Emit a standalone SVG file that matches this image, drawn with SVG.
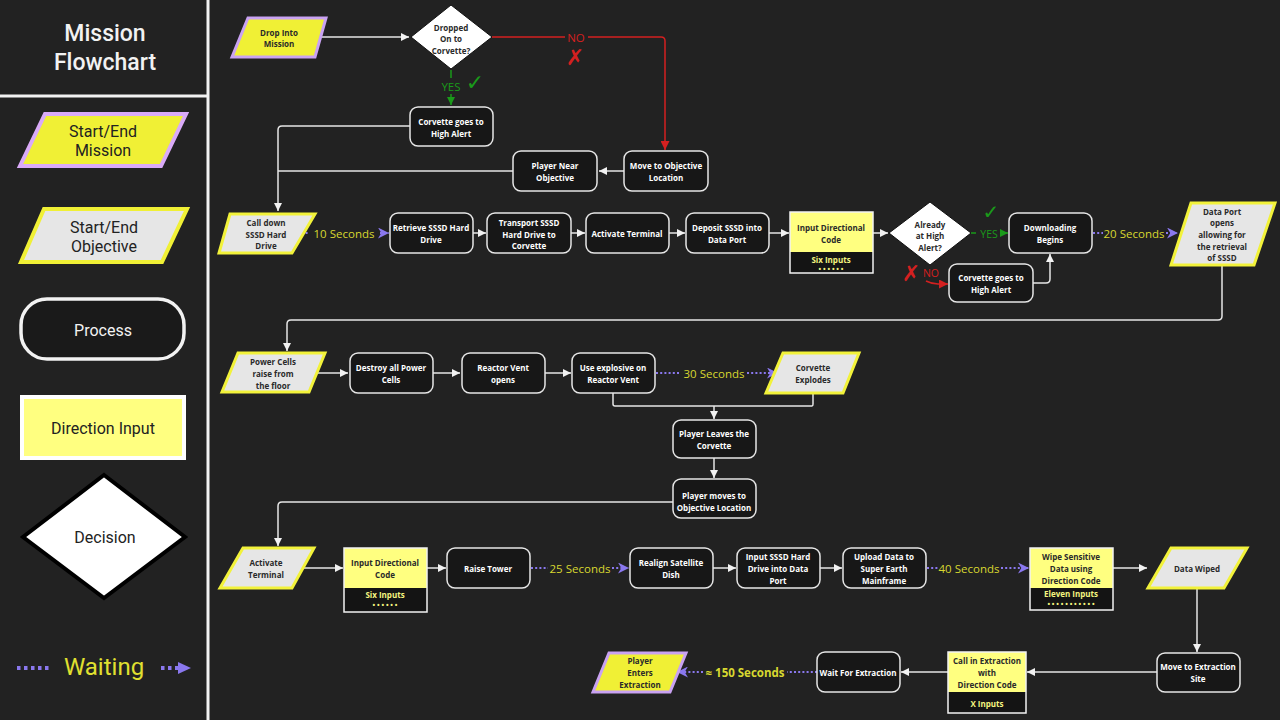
<svg xmlns="http://www.w3.org/2000/svg" width="1280" height="720" viewBox="0 0 1280 720">
<style>
.bg{fill:#222222}
.proc{fill:#171717;stroke:#e6e6e6;stroke-width:1.5}
.yin{fill:#ffff80}
.ybox{fill:none;stroke:#f2f2f2;stroke-width:1.5}
.ybot{fill:#141414}
.pm{fill:#f0f035;stroke:#c9a2f2;stroke-width:3}
.po{fill:#e6e6e6;stroke:#f2f23a;stroke-width:3}
.dec{fill:#ffffff;stroke:#111;stroke-width:1}
.t{font-family:"Open Sans","Noto Sans",sans-serif;font-weight:700;font-size:8px;fill:#ffffff;text-anchor:middle;dominant-baseline:central}
.td{fill:#2a2a2a}
.ty{fill:#f5f580}
.w{fill:none;stroke:#e6e6e6;stroke-width:1.5}
.r{fill:none;stroke:#d42020;stroke-width:1.5}
.g{fill:none;stroke:#1a9a1a;stroke-width:1.5}
.p{fill:none;stroke:#8a78ee;stroke-width:2;stroke-dasharray:2 2.2}
.wl{font-family:"Open Sans","Noto Sans",sans-serif;font-size:11.5px;fill:#d8d830;text-anchor:middle;dominant-baseline:central}
.sym{font-family:"DejaVu Sans",sans-serif;text-anchor:middle;dominant-baseline:central}
.lg{font-family:"Roboto","DejaVu Sans",sans-serif;font-size:16px;text-anchor:middle;dominant-baseline:central}
</style>
<defs>
<marker id="aw" viewBox="0 0 10 10" refX="10" refY="5" markerWidth="8" markerHeight="8" markerUnits="userSpaceOnUse" orient="auto"><path d="M0 0L10 5L0 10z" fill="#f2f2f2"/></marker>
<marker id="ar" viewBox="0 0 10 10" refX="10" refY="5" markerWidth="9" markerHeight="9" markerUnits="userSpaceOnUse" orient="auto"><path d="M0 0L10 5L0 10z" fill="#d42020"/></marker>
<marker id="ag" viewBox="0 0 10 10" refX="10" refY="5" markerWidth="8" markerHeight="8" markerUnits="userSpaceOnUse" orient="auto"><path d="M0 0L10 5L0 10z" fill="#1a9a1a"/></marker>
<marker id="ap" viewBox="0 0 10 10" refX="10" refY="5" markerWidth="11" markerHeight="11" markerUnits="userSpaceOnUse" orient="auto"><path d="M0 0L10 5L0 10L3 5z" fill="#8a78ee"/></marker>
</defs>
<rect class="bg" x="0" y="0" width="1280" height="720"/>

<g id="legend">
<line x1="208" y1="0" x2="208" y2="720" stroke="#f2f2f2" stroke-width="3"/>
<line x1="0" y1="96" x2="207" y2="96" stroke="#f2f2f2" stroke-width="3"/>
<text x="105" y="33" class="lg" style="font-size:23px;fill:#f2f2f2;font-weight:500">Mission</text>
<text x="105" y="62" class="lg" style="font-size:23px;fill:#f2f2f2;font-weight:500">Flowchart</text>
<polygon points="45,114 186,114 161,166 20,166" fill="#f0f035" stroke="#d9aaf8" stroke-width="4"/>
<text x="103" y="131" class="lg" fill="#222">Start/End</text>
<text x="103" y="150" class="lg" fill="#222">Mission</text>
<polygon points="44,209 187,209 162,262 21,262" fill="#e6e6e6" stroke="#f0f035" stroke-width="4"/>
<text x="104" y="227" class="lg" fill="#222">Start/End</text>
<text x="104" y="246" class="lg" fill="#222">Objective</text>
<rect x="21" y="299" width="163" height="60" rx="26" fill="#1a1a1a" stroke="#f2f2f2" stroke-width="3.5"/>
<text x="103" y="330" class="lg" fill="#f2f2f2">Process</text>
<rect x="22" y="397" width="162" height="61" fill="#ffff80" stroke="#ffffff" stroke-width="4"/>
<text x="103" y="428" class="lg" fill="#222">Direction Input</text>
<polygon points="104,475 185,537 104,598 23,537" fill="#ffffff" stroke="#000" stroke-width="4"/>
<text x="105" y="537" class="lg" fill="#222">Decision</text>
<line x1="17" y1="668" x2="52" y2="668" stroke="#8a78ee" stroke-width="4" stroke-dasharray="3.5 3.5"/>
<text x="104" y="667" class="lg" style="font-size:24px;fill:#e0e030">Waiting</text>
<line x1="161" y1="668" x2="180" y2="668" stroke="#8a78ee" stroke-width="4" stroke-dasharray="3.5 3.5"/>
<polygon points="178,662 191,668 178,674" fill="#8a78ee"/>
</g>

<g id="connectors">
<path class="w" d="M316 37H409" marker-end="url(#aw)"/>
<path class="r" d="M492 37H565M588 37H661Q665 37 665 41V150" marker-end="url(#ar)"/>
<text x="576" y="37" class="wl" style="fill:#d42020">NO</text>
<text x="575" y="57" class="sym" style="font-size:22px;fill:#d42020">✗</text>
<path class="g" d="M451 70V78"/>
<text x="451" y="86" class="wl" style="fill:#1a9a1a">YES</text>
<text x="475" y="82" class="sym" style="font-size:22px;fill:#1a9a1a">✓</text>
<path class="g" d="M451 94V105" marker-end="url(#ag)"/>
<path class="w" d="M410 126H282Q278 126 278 130V211" marker-end="url(#aw)"/>
<path class="w" d="M513 171H278"/>
<path class="w" d="M624 171H599" marker-end="url(#aw)"/>

<path class="p" d="M293 233H309"/>
<text x="344" y="233" class="wl">10 Seconds</text>
<path class="p" d="M380 233H389" marker-end="url(#ap)"/>
<path class="w" d="M473 233H486" marker-end="url(#aw)"/>
<path class="w" d="M571 233H585" marker-end="url(#aw)"/>
<path class="w" d="M669 233H685" marker-end="url(#aw)"/>
<path class="w" d="M769 233H789" marker-end="url(#aw)"/>
<path class="w" d="M873 233H888" marker-end="url(#aw)"/>
<path class="g" d="M971 233H976"/>
<text x="989" y="234" class="wl" style="fill:#1a9a1a;font-size:10.5px">YES</text>
<text x="991" y="212" class="sym" style="font-size:20px;fill:#1a9a1a">✓</text>
<path class="g" d="M1000 233H1008" marker-end="url(#ag)"/>
<text x="911" y="273" class="sym" style="font-size:22px;fill:#d42020">✗</text>
<text x="931" y="273" class="wl" style="fill:#d42020;font-size:10.5px">NO</text>
<path class="r" d="M926 281Q932 284 938 284H948" marker-end="url(#ar)"/>
<path class="w" d="M1033 283H1046Q1050 283 1050 279V254" marker-end="url(#aw)"/>
<path class="p" d="M1093 233H1103"/>
<text x="1134" y="233" class="wl">20 Seconds</text>
<path class="p" d="M1166 233H1178" marker-end="url(#ap)"/>
<path class="w" d="M1222 265V316Q1222 320 1218 320H291Q287 320 287 324V351" marker-end="url(#aw)"/>

<path class="w" d="M310 373H348" marker-end="url(#aw)"/>
<path class="w" d="M433 373H460" marker-end="url(#aw)"/>
<path class="w" d="M545 373H571" marker-end="url(#aw)"/>
<path class="p" d="M656 373H681"/>
<text x="714" y="373" class="wl">30 Seconds</text>
<path class="p" d="M747 373H778" marker-end="url(#ap)"/>
<path class="w" d="M613 393V404Q613 406 615 406H812Q813 406 813 404V393"/>
<path class="w" d="M714 406V419" marker-end="url(#aw)"/>
<path class="w" d="M714 458V478" marker-end="url(#aw)"/>
<path class="w" d="M673 502H282Q278 502 278 506V546" marker-end="url(#aw)"/>

<path class="w" d="M303 568H343" marker-end="url(#aw)"/>
<path class="w" d="M427 568H446" marker-end="url(#aw)"/>
<path class="p" d="M531 568H548"/>
<text x="580" y="568" class="wl">25 Seconds</text>
<path class="p" d="M612 568H629" marker-end="url(#ap)"/>
<path class="w" d="M713 568H736" marker-end="url(#aw)"/>
<path class="w" d="M820 568H842" marker-end="url(#aw)"/>
<path class="p" d="M927 568H938"/>
<text x="969" y="568" class="wl">40 Seconds</text>
<path class="p" d="M1001 568H1029" marker-end="url(#ap)"/>
<path class="w" d="M1113 568H1147" marker-end="url(#aw)"/>
<path class="w" d="M1197 588V652" marker-end="url(#aw)"/>

<path class="w" d="M1157 672H1027" marker-end="url(#aw)"/>
<path class="w" d="M948 672H901" marker-end="url(#aw)"/>
<path class="p" d="M817 672H787"/>
<text x="745" y="672" class="wl" style="font-weight:700">≈ 150 Seconds</text>
<path class="p" d="M703 672H677" marker-end="url(#ap)"/>
</g>

<g id="drop-into-mission"><polygon class="pm" points="248,18 326,18 315,57 232,57"/><text class="t td" x="279" y="32">Drop Into</text><text class="t td" x="279" y="43">Mission</text></g>
<g id="dropped-decision"><polygon class="dec" points="451,5 492,37 451,69 411,37"/><text class="t td" x="451" y="27">Dropped</text><text class="t td" x="451" y="38">On to</text><text class="t td" x="451" y="50">Corvette?</text></g>
<g id="corvette-high-alert-1"><rect class="proc" x="410" y="107" width="83" height="39" rx="8"/><text class="t" x="451" y="121">Corvette goes to</text><text class="t" x="451" y="133">High Alert</text></g>
<g id="move-to-objective"><rect class="proc" x="624" y="151" width="84" height="40" rx="8"/><text class="t" x="666" y="165">Move to Objective</text><text class="t" x="666" y="177">Location</text></g>
<g id="player-near-objective"><rect class="proc" x="513" y="151" width="84" height="40" rx="8"/><text class="t" x="555" y="165">Player Near</text><text class="t" x="555" y="177">Objective</text></g>

<g id="call-down-sssd"><polygon class="po" points="230,214 315,214 292,253 219,253"/><text class="t td" x="266" y="222">Call down</text><text class="t td" x="266" y="234">SSSD Hard</text><text class="t td" x="266" y="245">Drive</text></g>
<g id="retrieve-sssd"><rect class="proc" x="390" y="213" width="83" height="40" rx="8"/><text class="t" x="431" y="227">Retrieve SSSD Hard</text><text class="t" x="431" y="239">Drive</text></g>
<g id="transport-sssd"><rect class="proc" x="487" y="213" width="84" height="40" rx="8"/><text class="t" x="529" y="222">Transport SSSD</text><text class="t" x="529" y="234">Hard Drive to</text><text class="t" x="529" y="245">Corvette</text></g>
<g id="activate-terminal-1"><rect class="proc" x="586" y="213" width="83" height="40" rx="8"/><text class="t" x="627" y="233">Activate Terminal</text></g>
<g id="deposit-sssd"><rect class="proc" x="686" y="213" width="83" height="40" rx="8"/><text class="t" x="727" y="227">Deposit SSSD into</text><text class="t" x="727" y="239">Data Port</text></g>
<g id="input-code-1"><rect class="yin" x="790" y="212" width="83" height="40"/><rect class="ybot" x="790" y="252" width="83" height="21"/><rect class="ybox" x="790" y="212" width="83" height="61"/><text class="t td" x="831" y="227">Input Directional</text><text class="t td" x="831" y="239">Code</text><text class="t ty" x="831" y="259">Six Inputs</text><text class="t ty" x="831" y="269" style="font-size:7px">• • • • • •</text></g>
<g id="already-high-alert"><polygon class="dec" points="930,202 971,233 930,265 889,233"/><text class="t td" x="930" y="224">Already</text><text class="t td" x="930" y="235">at High</text><text class="t td" x="930" y="247">Alert?</text></g>
<g id="downloading-begins"><rect class="proc" x="1009" y="213" width="83" height="40" rx="8"/><text class="t" x="1050" y="227">Downloading</text><text class="t" x="1050" y="239">Begins</text></g>
<g id="corvette-high-alert-2"><rect class="proc" x="949" y="264" width="84" height="38" rx="8"/><text class="t" x="991" y="277">Corvette goes to</text><text class="t" x="991" y="289">High Alert</text></g>
<g id="data-port-opens"><polygon class="po" points="1191,203 1275,203 1254,265 1171,265"/><text class="t td" x="1222" y="211">Data Port</text><text class="t td" x="1222" y="222">opens</text><text class="t td" x="1222" y="234">allowing for</text><text class="t td" x="1222" y="246">the retrieval</text><text class="t td" x="1222" y="257">of SSSD</text></g>

<g id="power-cells"><polygon class="po" points="238,353 325,353 309,392 222,392"/><text class="t td" x="273" y="361">Power Cells</text><text class="t td" x="273" y="373">raise from</text><text class="t td" x="273" y="385">the floor</text></g>
<g id="destroy-power-cells"><rect class="proc" x="350" y="353" width="83" height="40" rx="8"/><text class="t" x="391" y="367">Destroy all Power</text><text class="t" x="391" y="379">Cells</text></g>
<g id="reactor-vent-opens"><rect class="proc" x="462" y="353" width="83" height="40" rx="8"/><text class="t" x="503" y="367">Reactor Vent</text><text class="t" x="503" y="379">opens</text></g>
<g id="use-explosive"><rect class="proc" x="572" y="353" width="83" height="40" rx="8"/><text class="t" x="613" y="367">Use explosive on</text><text class="t" x="613" y="379">Reactor Vent</text></g>
<g id="corvette-explodes"><polygon class="po" points="783,353 859,353 843,393 766,393"/><text class="t td" x="813" y="367">Corvette</text><text class="t td" x="813" y="379">Explodes</text></g>
<g id="player-leaves"><rect class="proc" x="673" y="420" width="83" height="38" rx="8"/><text class="t" x="714" y="433">Player Leaves the</text><text class="t" x="714" y="445">Corvette</text></g>
<g id="player-moves"><rect class="proc" x="673" y="479" width="83" height="39" rx="8"/><text class="t" x="714" y="495">Player moves to</text><text class="t" x="714" y="507">Objective Location</text></g>

<g id="activate-terminal-2"><polygon class="po" points="243,548 314,548 292,588 220,588"/><text class="t td" x="266" y="562">Activate</text><text class="t td" x="266" y="574">Terminal</text></g>
<g id="input-code-2"><rect class="yin" x="344" y="548" width="83" height="40"/><rect class="ybot" x="344" y="588" width="83" height="24"/><rect class="ybox" x="344" y="548" width="83" height="64"/><text class="t td" x="385" y="562">Input Directional</text><text class="t td" x="385" y="574">Code</text><text class="t ty" x="385" y="594">Six Inputs</text><text class="t ty" x="385" y="605" style="font-size:7px">• • • • • •</text></g>
<g id="raise-tower"><rect class="proc" x="447" y="548" width="83" height="40" rx="8"/><text class="t" x="488" y="568">Raise Tower</text></g>
<g id="realign-dish"><rect class="proc" x="630" y="548" width="83" height="40" rx="8"/><text class="t" x="671" y="562">Realign Satellite</text><text class="t" x="671" y="574">Dish</text></g>
<g id="input-sssd"><rect class="proc" x="737" y="548" width="83" height="40" rx="8"/><text class="t" x="778" y="556">Input SSSD Hard</text><text class="t" x="778" y="568">Drive into Data</text><text class="t" x="778" y="580">Port</text></g>
<g id="upload-data"><rect class="proc" x="843" y="548" width="83" height="40" rx="8"/><text class="t" x="884" y="556">Upload Data to</text><text class="t" x="884" y="568">Super Earth</text><text class="t" x="884" y="580">Mainframe</text></g>
<g id="wipe-data"><rect class="yin" x="1030" y="548" width="83" height="40"/><rect class="ybot" x="1030" y="588" width="83" height="22"/><rect class="ybox" x="1030" y="548" width="83" height="62"/><text class="t td" x="1071" y="556">Wipe Sensitive</text><text class="t td" x="1071" y="568">Data using</text><text class="t td" x="1071" y="580">Direction Code</text><text class="t ty" x="1071" y="593">Eleven Inputs</text><text class="t ty" x="1071" y="604" style="font-size:7px">• • • • • • • • • • •</text></g>
<g id="data-wiped"><polygon class="po" points="1171,548 1247,548 1224,588 1148,588"/><text class="t td" x="1197" y="568">Data Wiped</text></g>

<g id="move-to-extraction"><rect class="proc" x="1157" y="653" width="83" height="39" rx="8"/><text class="t" x="1198" y="666">Move to Extraction</text><text class="t" x="1198" y="678">Site</text></g>
<g id="call-extraction"><rect class="yin" x="948" y="652" width="78" height="40"/><rect class="ybot" x="948" y="692" width="78" height="21"/><rect class="ybox" x="948" y="652" width="78" height="61"/><text class="t td" x="987" y="660">Call in Extraction</text><text class="t td" x="987" y="672">with</text><text class="t td" x="987" y="684">Direction Code</text><text class="t ty" x="987" y="703">X Inputs</text></g>
<g id="wait-extraction"><rect class="proc" x="817" y="652" width="83" height="40" rx="8"/><text class="t" x="858" y="672">Wait For Extraction</text></g>
<g id="player-enters-extraction"><polygon class="pm" points="609,653 686,653 670,692 593,692"/><text class="t td" x="640" y="660">Player</text><text class="t td" x="640" y="672">Enters</text><text class="t td" x="640" y="684">Extraction</text></g>
</svg>
